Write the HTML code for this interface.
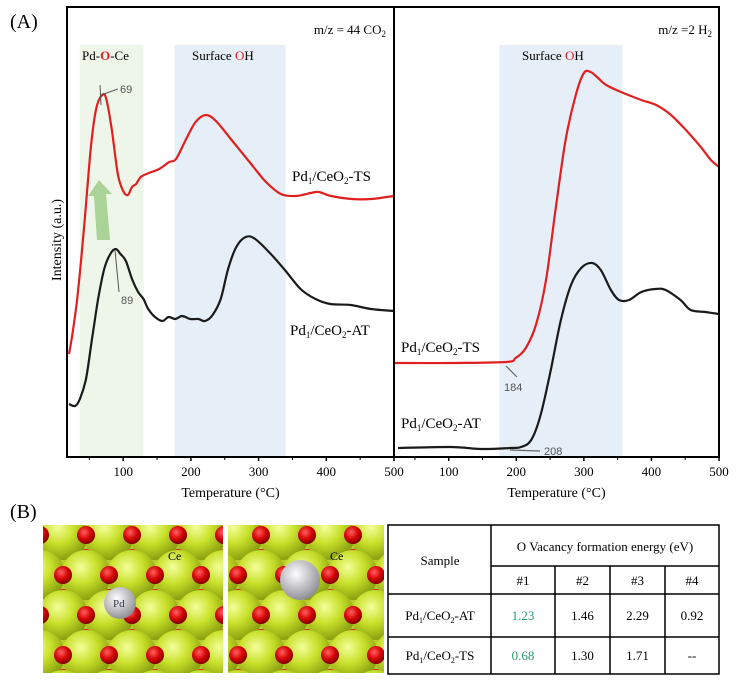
<!DOCTYPE html>
<html><head><meta charset="utf-8"><style>
body{margin:0;background:#fff;width:738px;height:688px;overflow:hidden;font-family:"Liberation Serif",serif}
svg{position:absolute;left:0;top:0}
</style></head><body>
<svg width="738" height="688" id="fig">
<defs>
<radialGradient id="ce" cx="40%" cy="35%" r="65%"><stop offset="0" stop-color="#f4ff9a"/><stop offset="0.5" stop-color="#c8e02a"/><stop offset="1" stop-color="#8aa010"/></radialGradient>
<radialGradient id="ox" cx="40%" cy="35%" r="65%"><stop offset="0" stop-color="#ff6060"/><stop offset="0.6" stop-color="#d40000"/><stop offset="1" stop-color="#800000"/></radialGradient>
<radialGradient id="pd" cx="40%" cy="35%" r="65%"><stop offset="0" stop-color="#ffffff"/><stop offset="1" stop-color="#909098"/></radialGradient>
<clipPath id="c1"><rect x="43" y="525" width="180" height="148"/></clipPath>
<clipPath id="c2"><rect x="228" y="525" width="156" height="148"/></clipPath>
</defs>
<text x="10" y="28" font-size="20">(A)</text>
<text x="10" y="518" font-size="20">(B)</text>
<g id="plots"></g>
<g id="mol1" clip-path="url(#c1)"></g>
<g id="mol2" clip-path="url(#c2)"></g>
<g id="table"></g>
</svg>
<script>
// Left panel (m/z=44 CO2)
const leftRedT=[20,25,32,42,52,60,69,75,83,92,100,107,113,119,126,138,153,168,178,193,207,222,237,259,289,311,333,355,377,389,407,437,466,500];
const leftRedI=[103,123,158,228,308,348,362,358,328,283,266,262,270,273,280,284,288,295,298,318,335,342,336,318,293,275,263,261,264,265,261,258,258,261];
const leftBlackT=[20,29,36,45,54,63,72,81,89,96,104,113,122,130,137,147,158,167,177,187,199,211,221,232,244,255,267,281,295,318,340,362,384,406,436,466,500];
const leftBlackI=[53,51,58,78,118,158,188,203,208,203,196,178,165,158,148,140,136,140,138,141,138,138,136,142,158,188,210,220,218,203,186,168,158,153,152,148,146];
// Right panel (m/z=2 H2)
const rightRedT=[19,103,185,199,214,229,244,258,273,288,300,310,321,333,355,385,407,429,451,473,488,500];
const rightRedI=[94,94,95,99,109,132,177,247,317,362,384,385,379,372,365,357,352,342,327,310,297,290];
const rightBlackT=[25,103,148,192,207,222,236,251,266,281,296,312,325,340,352,367,385,406,421,443,458,480,500];
const rightBlackI=[9,10,8,9,10,17,42,87,137,172,189,194,187,167,157,157,165,168,167,157,147,145,143];
const xTicks=[100,200,300,400,500];
const tableHead=["#1","#2","#3","#4"];
const rowAT=["1.23","1.46","2.29","0.92"];
const rowTS=["0.68","1.30","1.71","--"];

const NS="http://www.w3.org/2000/svg";
function mk(tag,attrs,parent,text){const e=document.createElementNS(NS,tag);for(const k in attrs)e.setAttribute(k,attrs[k]);if(text!==undefined)e.textContent=text;parent.appendChild(e);return e;}
const plots=document.getElementById('plots');
const yBase=457;
function yS(v){return yBase-v;}
const L={x0:67,x1:394,t0:17,t1:500};
const R={x0:394,x1:719,t0:19,t1:500};
function xS(p,t){return p.x0+(t-p.t0)*(p.x1-p.x0)/(p.t1-p.t0);}

function band(p,t0,t1,fill,name){
  const r=mk('rect',{x:xS(p,t0),y:45,width:xS(p,t1)-xS(p,t0),height:yBase-45,fill:fill},plots);
  
  
}
band(L,36,130,'#eef6ea','pd-o-ce-band');
band(L,176,340,'#e6eef8','surface-oh-band-left');
band(R,175,357,'#e6eef8','surface-oh-band-right');

function line(p,T,I,color,name){
  const P=T.map((t,i)=>[xS(p,t),yS(I[i])]);
  let d='M'+P[0][0].toFixed(1)+','+P[0][1].toFixed(1);
  for(let i=0;i<P.length-1;i++){
    const p0=P[Math.max(0,i-1)],p1=P[i],p2=P[i+1],p3=P[Math.min(P.length-1,i+2)];
    const c1=[p1[0]+(p2[0]-p0[0])/6,p1[1]+(p2[1]-p0[1])/6];
    const c2=[p2[0]-(p3[0]-p1[0])/6,p2[1]-(p3[1]-p1[1])/6];
    d+='C'+c1[0].toFixed(1)+','+c1[1].toFixed(1)+' '+c2[0].toFixed(1)+','+c2[1].toFixed(1)+' '+p2[0].toFixed(1)+','+p2[1].toFixed(1);
  }
  const e=mk('path',{d:d,fill:'none',stroke:color,'stroke-width':2.2,'stroke-linejoin':'round'},plots);
  
  
}
line(L,leftRedT,leftRedI,'#e02020','co2-ts-line');
line(L,leftBlackT,leftBlackI,'#1a1a1a','co2-at-line');
line(R,rightRedT,rightRedI,'#e02020','h2-ts-line');
line(R,rightBlackT,rightBlackI,'#1a1a1a','h2-at-line');

[L,R].forEach((p,pi)=>{
  const f=mk('rect',{x:p.x0,y:7,width:p.x1-p.x0,height:yBase-7,fill:'none',stroke:'#000','stroke-width':2},plots);
  
  
  xTicks.forEach(t=>{
    const x=xS(p,t);
    mk('line',{x1:x,x2:x,y1:yBase,y2:yBase+4,stroke:'#000','stroke-width':1.5},plots);
    if(t-50>p.t0) mk('line',{x1:xS(p,t-50),x2:xS(p,t-50),y1:yBase,y2:yBase+3,stroke:'#000','stroke-width':1},plots);
    if(pi===0 && t===500) return;
    const lb=mk('text',{x:x,y:yBase+19,'font-size':13,'text-anchor':'middle'},plots,String(t));
    
    
  });
  const tl=mk('text',{x:(p.x0+p.x1)/2,y:497,'font-size':14,'text-anchor':'middle'},plots,'Temperature (°C)');
  
  
});
mk('text',{x:394,y:yBase+19,'font-size':13,'text-anchor':'middle'},plots,'500');
const yt=mk('text',{x:0,y:0,'font-size':14,'text-anchor':'middle',transform:'translate(61,240) rotate(-90)'},plots,'Intensity (a.u.)');



function rich(x,y,parts,size,anchor,name){
  const t=mk('text',{x:x,y:y,'font-size':size,'text-anchor':anchor||'start'},plots);
  parts.forEach(pp=>{mk('tspan',pp[1]||{},t,pp[0]);});
  
  
}
const sub={'font-size':9,dy:3},up={dy:-3};
rich(386,34,[['m/z = 44 CO'],['2',sub]],13,'end','co2-title');
rich(712,34,[['m/z =2 H'],['2',sub]],13,'end','h2-title');
rich(82,60,[['Pd-'],['O',{fill:'#e02020','font-weight':'bold'}],['-Ce']],13,'start','pd-o-ce-label');
rich(192,60,[['Surface '],['O',{fill:'#e02020'}],['H']],13,'start','surface-oh-label-left');
rich(522,60,[['Surface '],['O',{fill:'#e02020'}],['H']],13,'start','surface-oh-label-right');
rich(292,181,[['Pd'],['1',sub],['/CeO',up],['2',sub],['-TS',up]],15,'start','co2-ts-label');
rich(290,335,[['Pd'],['1',sub],['/CeO',up],['2',sub],['-AT',up]],15,'start','co2-at-label');
rich(401,352,[['Pd'],['1',sub],['/CeO',up],['2',sub],['-TS',up]],15,'start','h2-ts-label');
rich(401,428,[['Pd'],['1',sub],['/CeO',up],['2',sub],['-AT',up]],15,'start','h2-at-label');
[['69',120,93],['89',121,304],['184',504,391],['208',544,455]].forEach(a=>{
  const t=mk('text',{x:a[1],y:a[2],'font-size':11,fill:'#555','font-family':'Liberation Sans, sans-serif'},plots,a[0]);
  
  
});
mk('path',{d:'M100,85 L101,105 M101,95 L118,89',stroke:'#555','stroke-width':1,fill:'none'},plots);
mk('path',{d:'M115,250 L119,292',stroke:'#555','stroke-width':1,fill:'none'},plots);
mk('path',{d:'M506,366 L517,377',stroke:'#666','stroke-width':1.2,fill:'none'},plots);
mk('path',{d:'M510,450 L540,451',stroke:'#666','stroke-width':1.2,fill:'none'},plots);
const ga=mk('path',{d:'M97,240 L94,196 L88,196 L99,180 L112,194 L106,194 L110,240 Z',fill:'#9ccc88',opacity:0.85},plots);



// molecules
function mol(id,x0,y0,w,h,off,pdx,pdy,pdr){
  const g=document.getElementById(id);
  mk('rect',{x:x0,y:y0,width:w,height:h,fill:'#b8cc30'},g);
  for(let r=-1;r<5;r++)for(let c=-1;c<6;c++){
    mk('circle',{cx:x0+off+c*46+(r%2?0:23),cy:y0+30+r*40,r:6,fill:'url(#ox)'},g);
  }
  for(let r=-1;r<5;r++)for(let c=-1;c<6;c++){
    mk('circle',{cx:x0+off+c*46+(r%2?23:0),cy:y0+10+r*40,r:25,fill:'url(#ce)'},g);
  }
  for(let r=-1;r<5;r++)for(let c=-1;c<6;c++){
    mk('circle',{cx:x0+off+c*46+(r%2?0:23),cy:y0+10+r*40,r:9,fill:'url(#ox)'},g);
  }
  mk('circle',{cx:pdx,cy:pdy,r:pdr,fill:'url(#pd)'},g);
}
mol('mol1',43,525,180,148,20,120,603,16);
mol('mol2',228,525,156,148,10,300,580,20);
const g1=document.getElementById('mol1');
mk('text',{x:113,y:607,'font-size':11,fill:'#335'},g1,'Pd');
mk('text',{x:168,y:560,'font-size':12},g1,'Ce');
const g2=document.getElementById('mol2');
mk('text',{x:330,y:560,'font-size':12},g2,'Ce');

// table
const tb=document.getElementById('table');
const cx=[388,491,555,610,665,719];
mk('rect',{x:388,y:525,width:331,height:149,fill:'#fff',stroke:'#000','stroke-width':1.5},tb);
[566,594,637].forEach((y,i)=>mk('line',{x1:i===0?491:388,x2:719,y1:y,y2:y,stroke:'#000','stroke-width':1.5},tb));
mk('line',{x1:491,x2:491,y1:525,y2:674,stroke:'#000','stroke-width':1.5},tb);
[555,610,665].forEach(x=>mk('line',{x1:x,x2:x,y1:566,y2:674,stroke:'#000','stroke-width':1.5},tb));
function tt(x,y,s,fill){return mk('text',{x:x,y:y,'font-size':13,'text-anchor':'middle',fill:fill||'#000'},tb,s);}
tt(440,565,'Sample');
tt(605,551,'O Vacancy formation energy (eV)');
tableHead.forEach((h,i)=>tt((cx[i+1]+cx[i+2])/2,585,h));
rowAT.forEach((v,i)=>tt((cx[i+1]+cx[i+2])/2,620,v,i===0?'#2a9a6a':'#000'));
rowTS.forEach((v,i)=>tt((cx[i+1]+cx[i+2])/2,660,v,i===0?'#2a9a6a':'#000'));
function rl(y,s){const t=mk('text',{x:440,y:y,'font-size':13,'text-anchor':'middle'},tb);
  [['Pd'],['1',{'font-size':8,dy:3}],['/CeO',{dy:-3}],['2',{'font-size':8,dy:3}],[s,{dy:-3}]].forEach(p=>mk('tspan',p[1]||{},t,p[0]));}
rl(620,'-AT');rl(660,'-TS');
</script>
</body></html>
